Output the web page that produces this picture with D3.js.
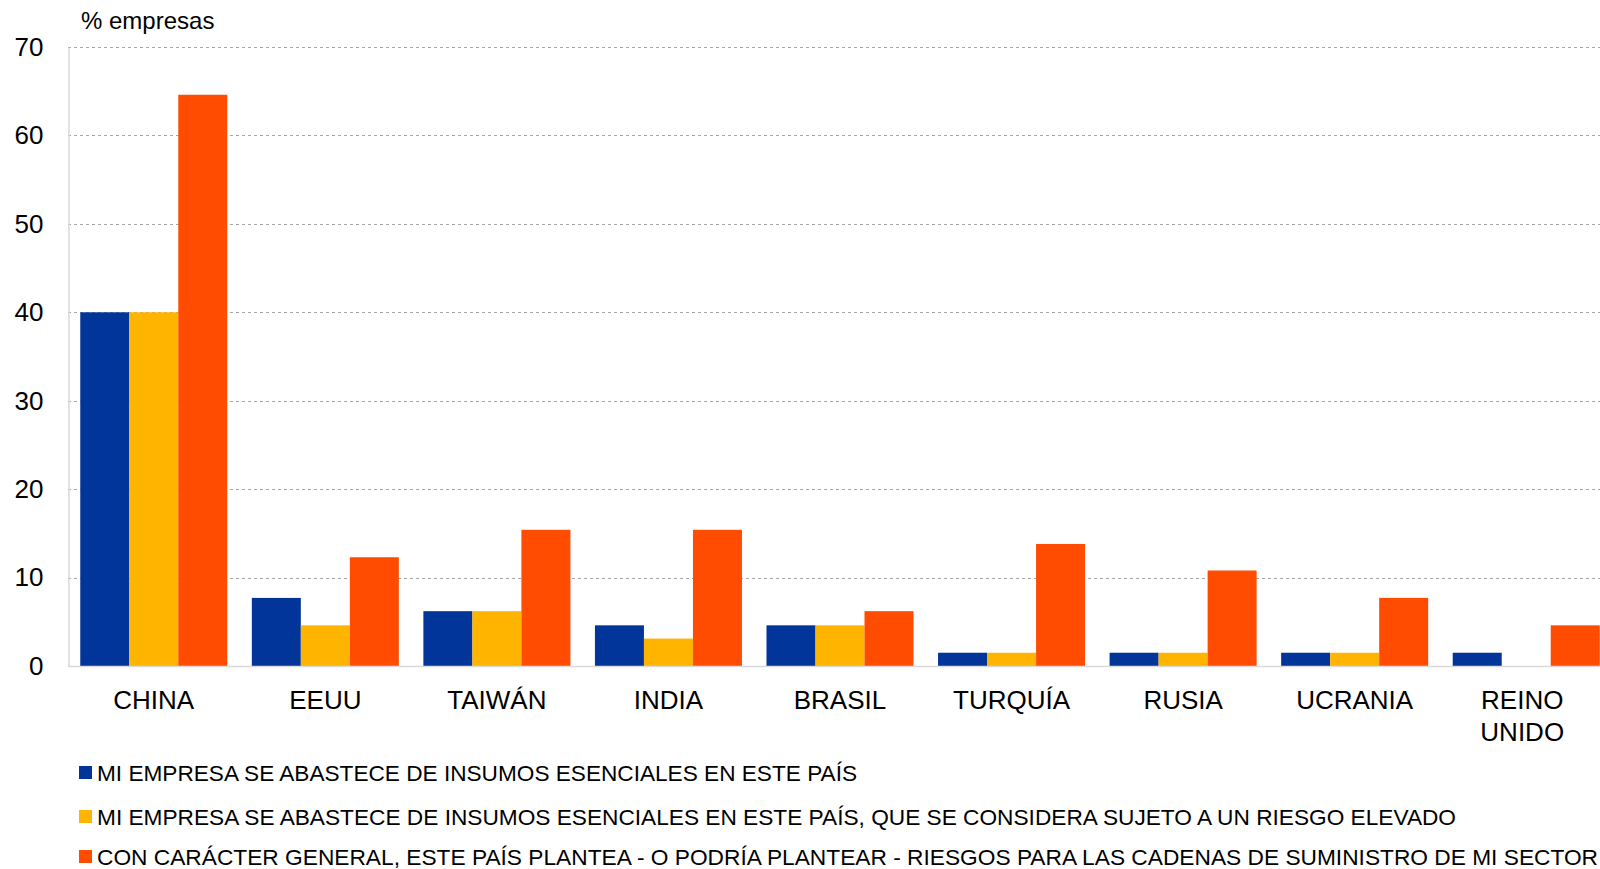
<!DOCTYPE html>
<html>
<head>
<meta charset="utf-8">
<script src="https://cdn.jsdelivr.net/npm/d3@7"></script>
<style>
	body { margin: 0; background: #fff; }
	svg { display: block; font-family: 'Liberation Sans', Arial, sans-serif; }
</style>
</head>
<body>
<svg id="chart"></svg>
<script>
// data
const countries = ['CHINA', 'EEUU', 'TAIWÁN', 'INDIA', 'BRASIL', 'TURQUÍA', 'RUSIA', 'UCRANIA', 'REINO UNIDO']
const abastece = [40.0, 7.7, 6.2, 4.6, 4.6, 1.5, 1.5, 1.5, 1.5]
const abasteceRiesgo = [40.0, 4.6, 6.2, 3.1, 4.6, 1.5, 1.5, 1.5, 0]
const riesgoGeneral = [64.6, 12.3, 15.4, 15.4, 6.2, 13.8, 10.8, 7.7, 4.6]
const seriesNames = [
	'MI EMPRESA SE ABASTECE DE INSUMOS ESENCIALES EN ESTE PAÍS',
	'MI EMPRESA SE ABASTECE DE INSUMOS ESENCIALES EN ESTE PAÍS, QUE SE CONSIDERA SUJETO A UN RIESGO ELEVADO',
	'CON CARÁCTER GENERAL, ESTE PAÍS PLANTEA - O PODRÍA PLANTEAR - RIESGOS PARA LAS CADENAS DE SUMINISTRO DE MI SECTOR',
]
const yTicks = [0, 10, 20, 30, 40, 50, 60, 70]
const colors = ['#02359a', '#ffb400', '#ff4c00']

const series = [abastece, abasteceRiesgo, riesgoGeneral]
const rows = countries.map((c, i) => ({ country: c, values: series.map(s => s[i]) }))

const outerWidth = 1600
const outerHeight = 869

const svg = d3.select('#chart')
	.attr('width', outerWidth)
	.attr('height', outerHeight)

// scales (plot runs slightly past the right edge, as in the original)
const x = d3.scaleBand()
	.domain(countries)
	.range([68, 1612])
	.paddingInner(0.143)
	.paddingOuter(0.0715)

const xInner = d3.scaleBand()
	.domain(d3.range(series.length))
	.range([0, x.bandwidth()])

const y = d3.scaleLinear()
	.domain([0, 70])
	.range([666, 47])

// gridlines
svg.append('g')
	.selectAll('line')
	.data(yTicks.filter(d => d > 0))
	.join('line')
		.attr('x1', 68)
		.attr('x2', outerWidth)
		.attr('y1', d => Math.round(y(d)) + 0.5)
		.attr('y2', d => Math.round(y(d)) + 0.5)
		.attr('stroke', '#a6a6a6')
		.attr('stroke-width', 1)
		.attr('stroke-dasharray', '3,3')

// y axis
const yAxis = svg.append('g')
	.attr('class', 'axis axis--y')
	.attr('transform', 'translate(68.5, 0)')
	.call(d3.axisLeft(y)
		.tickValues(yTicks)
		.tickSize(0)
		.tickPadding(25)
	)
yAxis.select('.domain').attr('stroke', '#d9d9d9').attr('stroke-width', 1.5)
yAxis.selectAll('text')
	.attr('font-size', 26)
	.attr('fill', '#000')
	.attr('font-family', "'Liberation Sans', Arial, sans-serif")

svg.append('text')
	.attr('x', 81)
	.attr('y', 29)
	.attr('font-size', 24)
	.text('% empresas')

// bars
svg.append('g')
	.selectAll('g')
	.data(rows)
	.join('g')
		.attr('transform', d => `translate(${x(d.country)}, 0)`)
	.selectAll('rect')
	.data(d => d.values)
	.join('rect')
		.attr('x', (d, i) => xInner(i))
		.attr('width', xInner.bandwidth())
		.attr('y', d => y(d))
		.attr('height', d => y(0) - y(d))
		.attr('fill', (d, i) => colors[i])

// baseline
svg.append('line')
	.attr('x1', 68)
	.attr('x2', outerWidth)
	.attr('y1', y(0) + 0.5)
	.attr('y2', y(0) + 0.5)
	.attr('stroke', '#d9d9d9')
	.attr('stroke-width', 1.5)

// x labels
const xLabels = svg.append('g')
	.selectAll('text')
	.data(countries)
	.join('text')
		.attr('x', d => x(d) + x.bandwidth() / 2)
		.attr('y', 709)
		.attr('text-anchor', 'middle')
		.attr('font-size', 26)
		.attr('fill', '#000')

xLabels.each(function (d) {
	const cx = x(d) + x.bandwidth() / 2 - (d === 'REINO UNIDO' ? 4 : 0)
	const words = d === 'REINO UNIDO' ? ['REINO', 'UNIDO'] : [d]
	d3.select(this).selectAll('tspan')
		.data(words)
		.join('tspan')
			.attr('x', cx)
			.attr('dy', (w, i) => i === 0 ? 0 : 32)
			.text(w => w)
})

// legend
const legendY = [773, 817, 857]
const legendEnd = [857, 1456, 1598]
const legend = svg.append('g')
	.selectAll('g')
	.data(seriesNames)
	.join('g')
		.attr('transform', (d, i) => `translate(79, ${legendY[i]})`)

legend.append('rect')
	.attr('x', 0)
	.attr('y', -7)
	.attr('width', 13)
	.attr('height', 13)
	.attr('fill', (d, i) => colors[i])

legend.append('text')
	.attr('x', 18)
	.attr('y', 8)
	.attr('font-size', 22)
	.attr('textLength', (d, i) => legendEnd[i] - 97)
	.attr('lengthAdjust', 'spacingAndGlyphs')
	.text(d => d)
</script>
</body>
</html>
